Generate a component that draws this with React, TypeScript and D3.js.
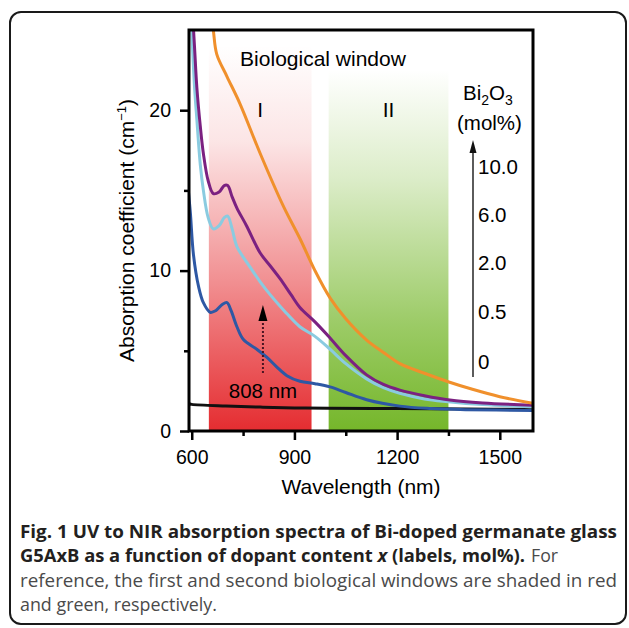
import React, { useEffect, useRef } from 'react';
import * as d3 from 'd3';

// ---------- data ----------
const xDomain = [592, 1597];
const yDomain = [0, 25];
const xMajorTicks = [600, 900, 1200, 1500];
const xMinorTicks = [750, 1050, 1350];
const yMajorTicks = [0, 10, 20];
const yMinorTicks = [5, 15];

const windowNames = ['I', 'II'];
const windowStarts = [650, 1000];
const windowEnds = [950, 1350];

const laserWavelength = 808;

const legendLabels = ['10.0', '6.0', '2.0', '0.5', '0'];

// each series: [wavelength nm, absorption cm^-1]
const series0: [number, number][] = [
  [590, 1.7], [600, 1.66], [700, 1.56], [800, 1.49], [900, 1.44], [1000, 1.42],
  [1200, 1.4], [1400, 1.37], [1600, 1.35],
];
const series05: [number, number][] = [
  [590, 15.0], [596, 13.6], [605, 11.0], [620, 9.0], [634, 8.0], [654, 7.4], [670, 7.5],
  [690, 7.9], [703, 8.0], [715, 7.5], [732, 6.5], [751, 5.7], [790, 5.1], [819, 4.6],
  [848, 4.0], [878, 3.45], [916, 3.1], [960, 2.95], [1004, 2.75], [1050, 2.4],
  [1111, 1.95], [1208, 1.55], [1300, 1.4], [1400, 1.33], [1600, 1.28],
];
const series2: [number, number][] = [
  [590, 30], [600, 25], [608, 21.5], [615, 19.4], [625, 16.6], [634, 15.0], [648, 13.3],
  [663, 12.6], [680, 12.8], [695, 13.3], [705, 13.4], [718, 12.6], [732, 11.5],
  [771, 10.2], [800, 9.3], [829, 8.5], [870, 7.5], [916, 6.5], [960, 5.9], [1004, 5.1],
  [1050, 4.2], [1111, 3.25], [1160, 2.7], [1208, 2.35], [1280, 2.0], [1349, 1.83],
  [1450, 1.65], [1600, 1.5],
];
const series6: [number, number][] = [
  [590, 32], [600, 27], [608, 24], [615, 21.4], [625, 19.0], [634, 17.3], [648, 15.6],
  [663, 14.8], [680, 14.9], [695, 15.3], [705, 15.3], [718, 14.6], [732, 13.9],
  [760, 12.8], [800, 11.1], [829, 10.3], [858, 9.5], [890, 8.5], [916, 7.7], [960, 6.8],
  [1004, 5.8], [1050, 4.7], [1111, 3.5], [1160, 2.9], [1208, 2.55], [1280, 2.2],
  [1354, 1.93], [1450, 1.75], [1600, 1.6],
];
const series10: [number, number][] = [
  [640, 29], [663, 25], [673, 23.5], [703, 22.1], [741, 20.4], [800, 17.3], [868, 14.0],
  [916, 12.0], [960, 10.0], [1004, 8.3], [1050, 7.0], [1111, 5.67], [1160, 4.9],
  [1208, 4.2], [1280, 3.6], [1349, 3.07], [1420, 2.6], [1500, 2.14], [1600, 1.72],
];

const seriesList = [series0, series05, series2, series6, series10];
const seriesColors = ['#111111', '#2e58a4', '#8acbe0', '#7b2181', '#f0902c'];

// ---------- layout ----------
const W = 629;
const H = 628;
const P = { left: 189, right: 533, top: 30, bottom: 431 };
const FONT = '"Liberation Sans", Arial, Helvetica, sans-serif';
const CAP_FONT = '"Open Sans", "Noto Sans", sans-serif';

export default function App() {
  const xAxisRef = useRef<SVGGElement>(null);
  const yAxisRef = useRef<SVGGElement>(null);

  const x = d3.scaleLinear().domain(xDomain).range([P.left, P.right]);
  const y = d3.scaleLinear().domain(yDomain).range([P.bottom, P.top]);

  const line = d3
    .line<[number, number]>()
    .x((d) => x(d[0]))
    .y((d) => y(d[1]))
    .curve(d3.curveCatmullRom.alpha(0.5));

  useEffect(() => {
    const gx = d3.select(xAxisRef.current);
    gx.selectAll('*').remove();
    const major = gx.append('g').call(
      d3.axisBottom(x).tickValues(xMajorTicks).tickSize(9).tickSizeOuter(0).tickPadding(10).tickFormat((d) => String(d))
    );
    const minor = gx.append('g').call(
      d3.axisBottom(x).tickValues(xMinorTicks).tickSize(5).tickSizeOuter(0).tickFormat(() => '')
    );
    [major, minor].forEach((g) => {
      g.select('.domain').remove();
      g.selectAll('line').attr('stroke', '#000').attr('stroke-width', 2.5);
      g.selectAll('text').attr('font-family', FONT).attr('font-size', 19.5).attr('fill', '#000');
    });

    const gy = d3.select(yAxisRef.current);
    gy.selectAll('*').remove();
    const ymaj = gy.append('g').call(
      d3.axisLeft(y).tickValues(yMajorTicks).tickSize(9).tickSizeOuter(0).tickPadding(9).tickFormat((d) => String(d))
    );
    const ymin = gy.append('g').call(
      d3.axisLeft(y).tickValues(yMinorTicks).tickSize(5).tickSizeOuter(0).tickFormat(() => '')
    );
    [ymaj, ymin].forEach((g) => {
      g.select('.domain').remove();
      g.selectAll('line').attr('stroke', '#000').attr('stroke-width', 2.5);
      g.selectAll('text').attr('font-family', FONT).attr('font-size', 19.5).attr('fill', '#000');
    });
  }, []);

  const arrowX = x(laserWavelength);
  const legX = 473;
  const legendYs = [167, 215, 263, 312, 362];

  return (
    <svg
      width={W}
      height={H}
      viewBox={`0 0 ${W} ${H}`}
      style={{ position: 'absolute', left: 0, top: 0, display: 'block', background: '#fff' }}
    >
      <defs>
        <clipPath id="plotClip">
          <rect x={P.left} y={P.top} width={P.right - P.left} height={P.bottom - P.top} />
        </clipPath>
        <linearGradient id="gradRed" gradientUnits="userSpaceOnUse" x1="0" y1={45} x2="0" y2={P.bottom}>
          <stop offset="0" stopColor="#e4262a" stopOpacity={0} />
          <stop offset="0.25" stopColor="#e4262a" stopOpacity={0.12} />
          <stop offset="0.6" stopColor="#e4262a" stopOpacity={0.5} />
          <stop offset="1" stopColor="#e4262a" stopOpacity={0.97} />
        </linearGradient>
        <linearGradient id="gradGreen" gradientUnits="userSpaceOnUse" x1="0" y1={70} x2="0" y2={P.bottom}>
          <stop offset="0" stopColor="#72b526" stopOpacity={0} />
          <stop offset="0.3" stopColor="#72b526" stopOpacity={0.25} />
          <stop offset="0.7" stopColor="#72b526" stopOpacity={0.7} />
          <stop offset="1" stopColor="#72b526" stopOpacity={0.98} />
        </linearGradient>
      </defs>

      {/* outer frame */}
      <rect x={10} y={12} width={616} height={612} rx={11} ry={11} fill="none" stroke="#1a1a1a" strokeWidth={2} />

      {/* biological windows */}
      {windowNames.map((n, i) => (
        <rect
          key={n}
          x={x(windowStarts[i])}
          y={P.top + 2}
          width={x(windowEnds[i]) - x(windowStarts[i])}
          height={P.bottom - P.top - 2}
          fill={i === 0 ? 'url(#gradRed)' : 'url(#gradGreen)'}
        />
      ))}

      {/* series */}
      <g clipPath="url(#plotClip)">
        {seriesList.map((s, i) => (
          <path key={i} d={line(s) || ''} fill="none" stroke={seriesColors[i]} strokeWidth={3} strokeLinejoin="round" />
        ))}
      </g>

      {/* plot box */}
      <rect x={P.left} y={P.top} width={P.right - P.left} height={P.bottom - P.top} fill="none" stroke="#000" strokeWidth={3} />

      <g ref={xAxisRef} transform={`translate(0,${P.bottom})`} />
      <g ref={yAxisRef} transform={`translate(${P.left},0)`} />

      {/* axis titles */}
      <text x={361} y={494} textAnchor="middle" fontFamily={FONT} fontSize={21} fill="#000">
        Wavelength (nm)
      </text>
      <text
        transform={`translate(134,${(P.top + P.bottom) / 2}) rotate(-90)`}
        textAnchor="middle"
        fontFamily={FONT}
        fontSize={21}
        fill="#000"
      >
        Absorption coefficient (cm
        <tspan fontSize={13} dy={-8}>−1</tspan>
        <tspan dy={8}>)</tspan>
      </text>

      {/* window labels */}
      <text x={323} y={66} textAnchor="middle" fontFamily={FONT} fontSize={21} fill="#000">
        Biological window
      </text>
      {windowNames.map((n, i) => (
        <text
          key={n}
          x={x((windowStarts[i] + windowEnds[i]) / 2)}
          y={117}
          textAnchor="middle"
          fontFamily={FONT}
          fontSize={21}
          fill="#000"
        >
          {n}
        </text>
      ))}

      {/* 808 nm arrow */}
      <line x1={arrowX} x2={arrowX} y1={373} y2={318} stroke="#4a1422" strokeWidth={2} strokeDasharray="2,2" />
      <path d={`M${arrowX},305 L${arrowX - 4.5},321 L${arrowX + 4.5},321 Z`} fill="#000" />
      <text x={arrowX} y={398} textAnchor="middle" fontFamily={FONT} fontSize={20.5} fill="#000">
        808 nm
      </text>

      {/* legend */}
      <text x={463} y={100} fontFamily={FONT} fontSize={20.5} fill="#000">
        Bi<tspan fontSize={14} dy={5}>2</tspan>
        <tspan dy={-5}>O</tspan>
        <tspan fontSize={14} dy={5}>3</tspan>
      </text>
      <text x={457} y={130} fontFamily={FONT} fontSize={20.5} fill="#000">
        (mol%)
      </text>
      <line x1={legX} x2={legX} y1={377} y2={150} stroke="#333" strokeWidth={1.6} />
      <path d={`M${legX},140 L${legX - 3.5},153 L${legX + 3.5},153 Z`} fill="#111" />
      {legendLabels.map((t, i) => (
        <text key={t} x={478} y={legendYs[i] + 7} fontFamily={FONT} fontSize={20.5} fill="#000">
          {t}
        </text>
      ))}

      {/* caption */}
      <text x={20} y={538} fontFamily={CAP_FONT} fontSize={17.5} fontWeight={700} fill="#231f20" textLength={597} lengthAdjust="spacingAndGlyphs">
        Fig. 1 UV to NIR absorption spectra of Bi-doped germanate glass
      </text>
      <text x={20} y={562} fontFamily={CAP_FONT} fontSize={17.5} fontWeight={700} fill="#231f20" textLength={505} lengthAdjust="spacingAndGlyphs">
        G5AxB as a function of dopant content <tspan fontStyle="italic">x</tspan> (labels, mol%).
      </text>
      <text x={531} y={562} fontFamily={CAP_FONT} fontSize={17.5} fill="#4a4a4a" textLength={27} lengthAdjust="spacingAndGlyphs">
        For
      </text>
      <text x={20} y={587} fontFamily={CAP_FONT} fontSize={17.5} fill="#4a4a4a" textLength={597} lengthAdjust="spacingAndGlyphs">
        reference, the first and second biological windows are shaded in red
      </text>
      <text x={20} y={611} fontFamily={CAP_FONT} fontSize={17.5} fill="#4a4a4a" textLength={197} lengthAdjust="spacingAndGlyphs">
        and green, respectively.
      </text>
    </svg>
  );
}
